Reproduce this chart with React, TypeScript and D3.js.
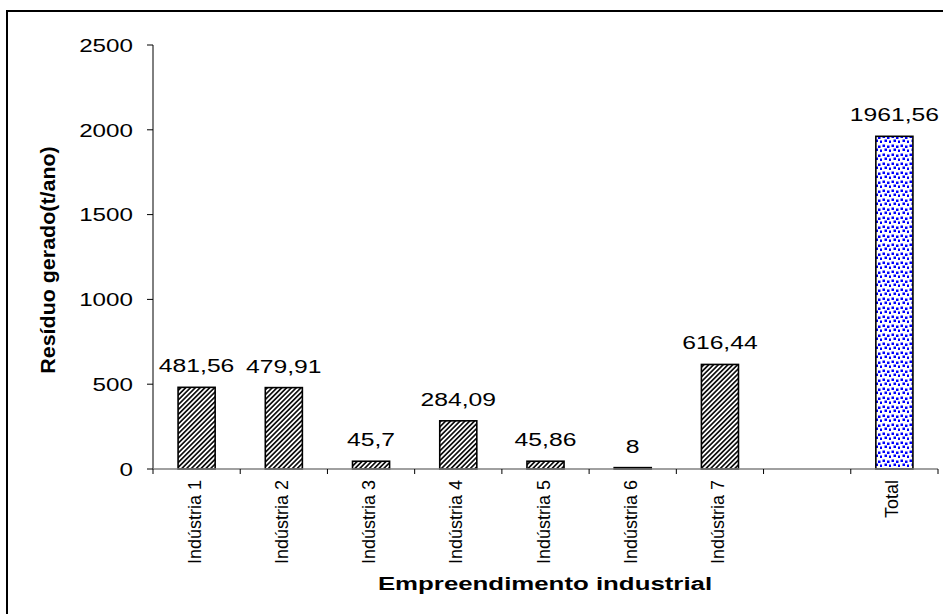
import React from "react";
import * as d3 from "d3";

// Residue generated per industrial site (t/ano)
const categories = [
  "Indústria 1",
  "Indústria 2",
  "Indústria 3",
  "Indústria 4",
  "Indústria 5",
  "Indústria 6",
  "Indústria 7",
  "",
  "Total",
];
const values: (number | null)[] = [481.56, 479.91, 45.7, 284.09, 45.86, 8, 616.44, null, 1961.56];
const isTotal = [false, false, false, false, false, false, false, false, true];
const yTicks = [0, 500, 1000, 1500, 2000, 2500];

const W = 943;
const H = 614;
const FONT = "'Liberation Sans', Arial, Helvetica, sans-serif";

const fmt = (v: number) => String(v).replace(".", ",");

export default function App() {
  const x0 = 153;
  const x1 = 938;
  const yTop = 45;
  const yBase = 469;

  const x = d3.scaleBand<string>().domain(categories.map((c, i) => `${i}`)).range([x0, x1]).padding(0);
  const y = d3.scaleLinear().domain([0, 2500]).range([yBase, yTop]);
  const barW = x.bandwidth() * 0.425;
  const stretch = 1.3;

  return (
    <div style={{ position: "fixed", left: 0, top: 0 }}>
      <svg width={W} height={H} style={{ display: "block", background: "#fff" }} fontFamily={FONT}>
        <defs>
          <pattern id="hatch" width="3.4" height="3.4" patternUnits="userSpaceOnUse" patternTransform="rotate(45)">
            <rect width="3.4" height="3.4" fill="#fff" />
            <rect width="1.7" height="3.4" fill="#111" />
          </pattern>
          <pattern id="dots" width="9" height="9" patternUnits="userSpaceOnUse">
            <rect width="9" height="9" fill="#fff" />
            <rect x="0.5" y="0.5" width="2.5" height="2.5" fill="#0000ff" />
            <rect x="5" y="1.5" width="2.5" height="2.5" fill="#0000ff" />
            <rect x="2.5" y="4.5" width="2.5" height="2.5" fill="#0000ff" />
            <rect x="7" y="5.5" width="2" height="2.5" fill="#0000ff" />
          </pattern>
        </defs>

        {/* chart frame */}
        <rect x={7} y={11} width={1200} height={1200} fill="none" stroke="#000" strokeWidth={2} />

        {/* y axis */}
        <line x1={x0} x2={x0} y1={yTop} y2={yBase} stroke="#000" strokeWidth={1} />
        {yTicks.map((t) => (
          <g key={t}>
            <line x1={x0 - 6} x2={x0} y1={y(t)} y2={y(t)} stroke="#000" strokeWidth={1} />
            <text
              transform={`translate(${x0 - 20},${y(t)}) scale(${stretch * 0.98},1)`}
              textAnchor="end"
              dy="0.36em"
              fontSize={19}
              fill="#000"
            >
              {t}
            </text>
          </g>
        ))}

        {/* bars */}
        {categories.map((c, i) => {
          const v = values[i];
          if (v == null) return null;
          const cx = (x(`${i}`) as number) + x.bandwidth() / 2;
          return (
            <g key={i}>
              <rect
                x={cx - barW / 2}
                y={y(v)}
                width={barW}
                height={yBase - y(v)}
                fill={isTotal[i] ? "url(#dots)" : "url(#hatch)"}
                stroke="#000"
                strokeWidth={1.6}
              />
              <text
                transform={`translate(${cx},${y(v) - 15}) scale(${stretch},1)`}
                textAnchor="middle"
                fontSize={19}
                fill="#000"
              >
                {fmt(v)}
              </text>
            </g>
          );
        })}

        {/* x axis */}
        <line x1={x0} x2={x1} y1={yBase} y2={yBase} stroke="#808080" strokeWidth={1.5} />
        {categories.map((c, i) => (
          <line
            key={`t${i}`}
            x1={x(`${i}`) as number}
            x2={x(`${i}`) as number}
            y1={yBase}
            y2={yBase + 5}
            stroke="#000"
            strokeWidth={1}
          />
        ))}
        <line x1={x1} x2={x1} y1={yBase} y2={yBase + 5} stroke="#000" strokeWidth={1} />
        {categories.map((c, i) => {
          const cx = (x(`${i}`) as number) + x.bandwidth() / 2;
          return (
            <text
              key={`l${i}`}
              transform={`translate(${cx + 4},480) rotate(-90) scale(1.03,1)`}
              textAnchor="end"
              fontSize={17.5}
              fill="#000"
            >
              {c}
            </text>
          );
        })}

        {/* axis titles */}
        <text
          transform={`translate(545,590) scale(1.36,1)`}
          textAnchor="middle"
          fontSize={19}
          fontWeight="bold"
          fill="#000"
        >
          Empreendimento industrial
        </text>
        <text
          transform={`translate(55,260) rotate(-90) scale(1.1,1)`}
          textAnchor="middle"
          fontSize={19.5}
          fontWeight="bold"
          fill="#000"
        >
          Resíduo gerado(t/ano)
        </text>
      </svg>
    </div>
  );
}
